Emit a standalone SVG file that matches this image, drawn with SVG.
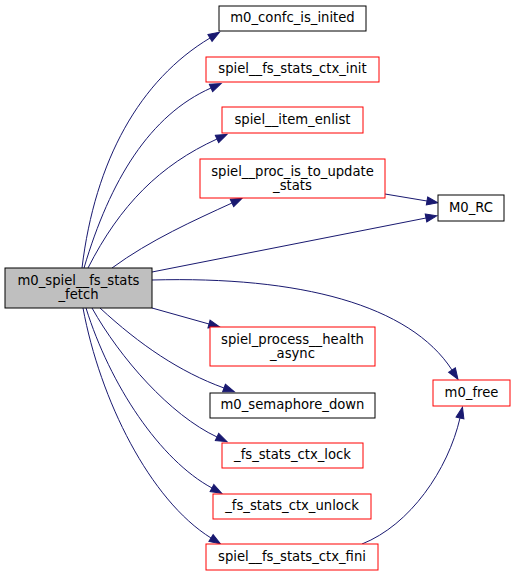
<svg xmlns="http://www.w3.org/2000/svg" width="515" height="576" viewBox="0 0 515 576">
<style>
.n rect{fill:#fff;stroke:#000;stroke-width:1}
.n.r rect{stroke:#ff0000}
.n.m rect{fill:#bfbfbf;stroke:#000}
text{font-family:"DejaVu Sans",sans-serif;font-size:13.2px;text-anchor:middle;fill:#000}
.e path{fill:none;stroke:#191970;stroke-width:1;marker-end:url(#a)}
</style>
<defs>
<marker id="a" markerUnits="userSpaceOnUse" markerWidth="12" markerHeight="9" refX="0" refY="4" orient="auto" overflow="visible">
<path d="M0,0 L11,4 L0,8 z" fill="#191970" stroke="#191970" stroke-width="1"/>
</marker>
</defs>
<rect width="515" height="576" fill="#fff"/>
<g class="e" id="edges">
<path d="M82,268 C95,160 140,80 210,38"/>
<path d="M84,268 C110,180 150,115 211,88"/>
<path d="M88,268 C120,205 160,165 217,139"/>
<path d="M112,268 C150,240 195,220 232,203"/>
<path d="M152,272 L426,218"/>
<path d="M385,194 L427,201"/>
<path d="M152,280 C300,276 410,305 452,370"/>
<path d="M152,308 L209,324"/>
<path d="M100,308 C140,345 180,372 224,388"/>
<path d="M92,308 C120,358 170,415 217,437"/>
<path d="M86,308 C110,385 160,460 212,488"/>
<path d="M83,308 C100,400 150,500 211,538"/>
<path d="M362,544 C410,525 448,470 460,418"/>
</g>
<g class="n m" id="n_fetch"><rect x="5" y="268" width="147" height="40"/><text x="78.5" y="284.5">m0_spiel__fs_stats</text><text x="78.5" y="298.5">_fetch</text></g>
<g class="n" id="n_confc"><rect x="219" y="6" width="147" height="25"/><text x="292.5" y="22">m0_confc_is_inited</text></g>
<g class="n r" id="n_ctx_init"><rect x="206" y="57" width="173" height="25"/><text x="292.5" y="73">spiel__fs_stats_ctx_init</text></g>
<g class="n r" id="n_enlist"><rect x="222" y="107" width="141" height="26"/><text x="292.5" y="124">spiel__item_enlist</text></g>
<g class="n r" id="n_proc"><rect x="200" y="159" width="185" height="39"/><text x="292.5" y="175.5">spiel__proc_is_to_update</text><text x="292.5" y="189.5">_stats</text></g>
<g class="n" id="n_rc"><rect x="438" y="195" width="66" height="26"/><text x="471" y="212">M0_RC</text></g>
<g class="n r" id="n_health"><rect x="210" y="327" width="165" height="39"/><text x="292.5" y="343.5">spiel_process__health</text><text x="292.5" y="357.5">_async</text></g>
<g class="n r" id="n_free"><rect x="433" y="380" width="77" height="26"/><text x="471.5" y="397">m0_free</text></g>
<g class="n" id="n_sem"><rect x="210" y="393" width="165" height="25"/><text x="292.5" y="409">m0_semaphore_down</text></g>
<g class="n r" id="n_lock"><rect x="222" y="443" width="141" height="25"/><text x="292.5" y="459">_fs_stats_ctx_lock</text></g>
<g class="n r" id="n_unlock"><rect x="213" y="494" width="158" height="25"/><text x="292" y="510">_fs_stats_ctx_unlock</text></g>
<g class="n r" id="n_fini"><rect x="206" y="544" width="172" height="26"/><text x="292" y="561">spiel__fs_stats_ctx_fini</text></g>
</svg>
